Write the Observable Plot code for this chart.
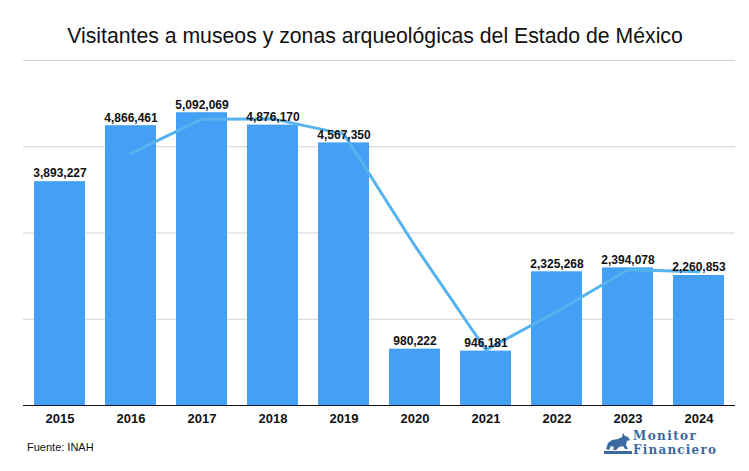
<!DOCTYPE html>
<html>
<head>
<meta charset="utf-8">
<script src="https://cdn.jsdelivr.net/npm/d3@7"></script>
<script src="https://cdn.jsdelivr.net/npm/@observablehq/plot@0.6"></script>
<style>
  html, body { margin: 0; padding: 0; background: #fff; }
  body { width: 749px; height: 471px; position: relative; overflow: hidden; font-family: "Liberation Sans", Arial, sans-serif; }
  #title { position: absolute; left: 0; top: 0; width: 749px; height: 60px; line-height: 72px; text-align: center; font-size: 22px; color: #111; }
  #title span { display: inline-block; transform: scaleX(0.965); transform-origin: center; }
  #chart { position: absolute; left: 0; top: 58px; }
  #source { position: absolute; left: 27px; top: 441px; font-size: 11px; color: #111; }
  #logo { position: absolute; left: 604px; top: 429px; display: flex; align-items: center; }
  #logo .txt { font-family: "DejaVu Serif", "Liberation Serif", serif; font-weight: bold; color: #3a6aa0; font-size: 12px; line-height: 14px; margin-left: 1px; }
  #logo .txt div { height: 14px; }
</style>
</head>
<body>
<div id="title"><span>Visitantes a museos y zonas arqueológicas del Estado de México</span></div>
<div id="chart"></div>
<div id="source">Fuente: INAH</div>
<div id="logo">
  <svg width="28" height="26" viewBox="0 0 28 26">
    <path d="M2 19 L4 13 L8 10 L14 9 L18 7 L19 3 L21 6 L24 7 L26 10 L23 11 L22 15 L24 19 L21 19 L19 16 L15 17 L12 20 L9 20 L10 17 L7 16 L5 20 Z" fill="#3a6aa0"/>
    <rect x="0" y="21" width="28" height="3" fill="#3a6aa0"/>
  </svg>
  <div class="txt"><div style="letter-spacing:1.4px">Monitor</div><div style="letter-spacing:1.2px">Financiero</div></div>
</div>
<script>
const years = ["2015","2016","2017","2018","2019","2020","2021","2022","2023","2024"];
const visitors = [3893227, 4866461, 5092069, 4876170, 4567350, 980222, 946181, 2325268, 2394078, 2260853];
// trend line (starts at 2016)
const trend = [null, 4385000, 4980000, 4985000, 4720000, 2775000, 965000, 1635000, 2360000, 2325000];
const gridValues = [1500000, 3000000, 4500000, 6000000];

const data = years.map((y, i) => ({year: y, value: visitors[i], trend: trend[i]}));
const fmt = d3.format(",");

const chart = Plot.plot({
  width: 749,
  height: 377,
  marginTop: 2,
  marginBottom: 30,
  marginLeft: 23,
  marginRight: 14,
  style: { fontFamily: "'Liberation Sans', Arial, sans-serif", background: "transparent" },
  x: { domain: years, paddingInner: 0.285, paddingOuter: 0.14, label: null },
  y: { domain: [0, 6000000], axis: null },
  marks: [
    Plot.ruleY(gridValues, { stroke: "#d4d4d4", strokeWidth: 1 }),
    Plot.barY(data, { x: "year", y: "value", fill: "#44a0f4" }),
    Plot.line(data.filter(d => d.trend != null), { x: "year", y: "trend", stroke: "#56b3ee", strokeWidth: 3, curve: "linear" }),
    Plot.text(data, { x: "year", y: "value", text: d => fmt(d.value), dy: -8, fontWeight: "bold", fontSize: 12, fill: "#111" }),
    Plot.ruleY([0], { stroke: "#111", strokeWidth: 1.2 }),
    Plot.axisX({ tickSize: 0, tickPadding: 8, fontWeight: "bold", fontSize: 13, fill: "#111", label: null })
  ]
});
document.getElementById("chart").appendChild(chart);
</script>
</body>
</html>
